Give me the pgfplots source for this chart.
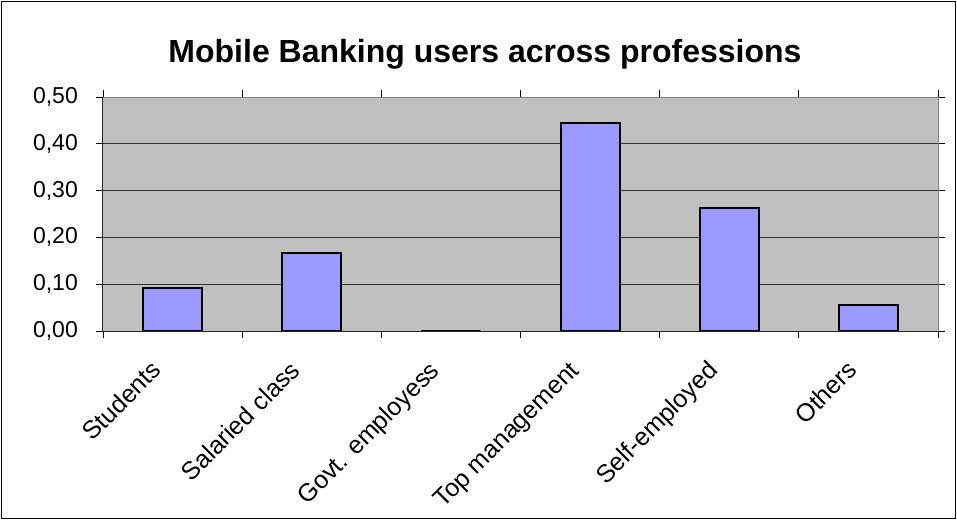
\documentclass[border=0pt]{standalone}
\usepackage{fontspec}
\setmainfont{Liberation Sans}
\usepackage{pgfplots}
\pgfplotsset{compat=1.18}

\definecolor{plotbg}{HTML}{C0C0C0}
\definecolor{barfill}{HTML}{9999FF}
\definecolor{frame}{HTML}{808080}

\begin{document}
\begin{tikzpicture}
  \useasboundingbox (-103bp,-189bp) rectangle (854bp,331bp);
  \draw[black, line width=1bp] (-101.5bp,-187.5bp) rectangle (852.5bp,329.5bp);

  \begin{axis}[
      at={(0,0)}, anchor=south west,
      scale only axis,
      width=835bp, height=234bp,
      xmin=-0.5, xmax=5.5,
      ymin=0, ymax=0.5,
      ytick={0,0.1,0.2,0.3,0.4,0.5},
      % ticks sit on the category borders, labels are moved to the centres
      xtick={-0.5,0.5,1.5,2.5,3.5,4.5},
      xticklabels={Students, Salaried class, Govt. employess, Top management, Self-employed, Others},
      extra x ticks={5.5},
      extra x tick labels={},
      extra x tick style={grid=none},
      major tick length=7bp,
      tick align=outside,
      tick style={black, line width=0.8bp},
      axis line style={frame, line width=1bp},
      axis background/.style={fill=plotbg},
      ymajorgrids=true,
      grid style={black!80, line width=1bp},
      /pgf/number format/.cd, fixed, fixed zerofill, precision=2, use comma, assume math mode=true,
      /pgfplots/.cd,
      yticklabel style={font=\fontsize{23bp}{26bp}\selectfont, anchor=east, inner sep=0pt, xshift=-18bp},
      xticklabel style={font=\fontsize{25bp}{28bp}\selectfont, xshift=59.6bp, yshift=-34bp, rotate=45, anchor=base east, inner sep=0pt},
      ybar, bar width=59bp,
      clip=false,
  ]
  \addplot[draw=black, line width=2bp, fill=barfill]
    coordinates {
      (0,0.092)
      (1,0.167)
      (2,0.0)
      (3,0.445)
      (4,0.262)
      (5,0.056)
    };
  \draw[black!85, line width=1bp] (rel axis cs:0,1) -- (rel axis cs:0,0) -- (rel axis cs:1,0);
  \end{axis}

  \node[font=\bfseries\fontsize{32bp}{36bp}\selectfont, anchor=base] at (382bp,268bp)
    {Mobile Banking users across professions};
\end{tikzpicture}
\end{document}
